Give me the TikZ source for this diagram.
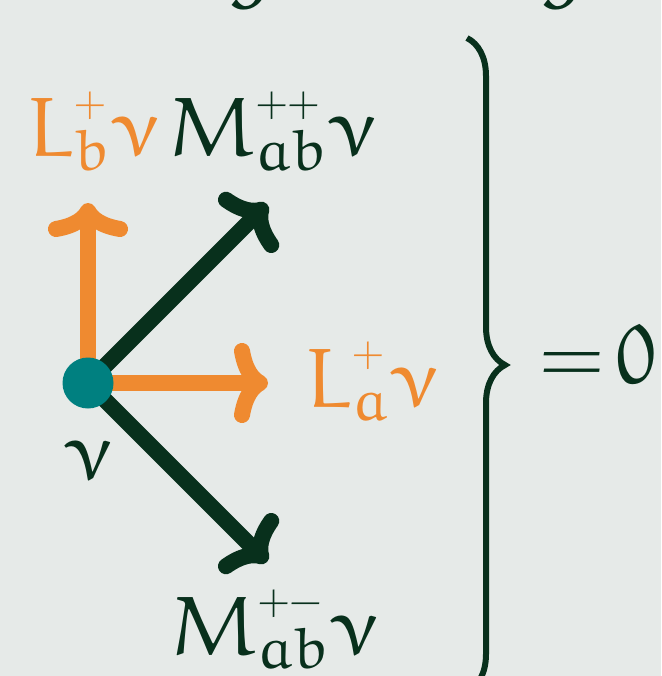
\documentclass[tikz,border=0pt]{standalone}
\IfFileExists{euler.sty}{\usepackage{euler}}{}
\usetikzlibrary{arrows.meta,decorations.pathreplacing}
\definecolor{bgc}{RGB}{230,234,232}
\definecolor{orng}{RGB}{239,138,48}
\definecolor{dgrn}{RGB}{8,48,28}
\definecolor{tealc}{RGB}{0,128,128}
\newcommand\supsubx[2]{\mathord{\ooalign{\raisebox{-0.155em}{$\scriptstyle#2$}\cr\raisebox{0.48em}{$\scriptscriptstyle#1$}\cr}}}
\tikzset{
  lbl/.style={inner sep=0pt, font=\fontsize{84}{90}\selectfont},
  tipstyle/.style={-{Computer Modern Rightarrow[length=34pt,width=80pt]}},
  oarrow/.style={tipstyle, draw=orng, line width=16pt},
  garrow/.style={tipstyle, draw=dgrn, line width=16pt},
}
\begin{document}
\begin{tikzpicture}[x=1pt,y=-1pt]
\fill[bgc] (0,0) rectangle (661,676);
\useasboundingbox (0,0) rectangle (661,676);
\begin{scope}
\clip (0,0) rectangle (661,676);
% partial title letters
\node[lbl, anchor=south, text=dgrn] (g1) at (248,7) {$g$};
\node[lbl, anchor=south, text=dgrn] (g2) at (560,7) {$g$};
% brace
\draw[dgrn, line width=6pt, decorate, decoration={brace, amplitude=38pt}] (467,38) -- (467,692);
\end{scope}
\coordinate (v0) at (88,383);
\coordinate (tU) at (88,203);
\coordinate (tR) at (268,383);
\coordinate (tNE) at (267,204);
\coordinate (tSE) at (267,562);
\draw[garrow] (v0) -- (tNE);
\draw[garrow] (v0) -- (tSE);
\draw[oarrow] (v0) -- (tU);
\draw[oarrow] (v0) -- (tR);
\node[circle, fill=tealc, minimum size=51pt, inner sep=0pt] (dot) at (v0) {};
\node[lbl, anchor=base west, text=orng] (Lb) at (27,157) {$L\supsubx{+}{b}\mkern1mu\nu$};
\node[lbl, anchor=base west, text=dgrn] (Mpp) at (168,157) {$M\supsubx{++}{ab}\mkern1mu\nu$};
\node[lbl, anchor=base west, text=orng] (La) at (305,407) {$L\supsubx{+}{a}\mkern1mu\nu$};
\node[lbl, anchor=base west, text=dgrn] (nu) at (63,480) {$\nu$};
\node[lbl, anchor=base west, text=dgrn] (Mpm) at (170,655) {$M\supsubx{+-}{ab}\mkern1mu\nu$};
\node[lbl, anchor=base west, text=dgrn] (eq) at (539,383) {$=\mkern4mu 0$};
\end{tikzpicture}
\end{document}
